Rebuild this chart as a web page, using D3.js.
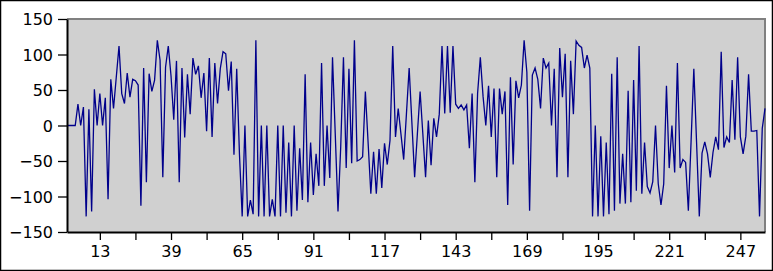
<!DOCTYPE html>
<html>
<head>
<meta charset="utf-8">
<script src="https://cdn.jsdelivr.net/npm/d3@7"></script>
<style>
  body { margin: 0; background: #fff; }
  svg { display: block; }
  .tick text { font-family: "DejaVu Sans", sans-serif; font-size: 16px; fill: #000; }
</style>
</head>
<body>
<div id="chart"></div>
<script>
// sample values, index 1..256
const values = [
  0, 0, 0, 0, 30, 0, 26, -128, 23, -121, 51, 0, 45, 0, 39, -104,
  65, 24, 68, 112, 45, 31, 74, 40, 65, 63, 57, -113, 81, -80, 73, 48,
  64, 120, 92, -73, 82, 112, 70, 8, 91, -80, 81, -17, 72, 16, 95, 72,
  84, 39, 74, -8, 95, -16, 88, 31, 80, 104, 101, 49, 90, -41, 80, -40,
  -128, 0, -128, -105, -125, 120, -128, 0, -128, 0, -128, -104, -128, 0, -128, 0,
  -123, -24, -128, 0, -120, -32, -105, 72, -108, -24, -98, -40, -85, 88, -85, 0,
  -74, 96, -12, -121, -30, 96, -60, 80, -53, 120, -50, -48, -44, 48, -24, -96,
  -37, -96, -33, -88, -25, -55, -21, 112, -16, 24, -12, -48, 16, 81, 4, -73,
  -12, 48, -12, -73, 7, -56, 10, -16, 16, 112, 17, 112, 18, 112, 30, 24,
  29, 22, 29, -32, 45, -80, 45, 96, 41, 0, 56, -16, 52, -73, 52, 16,
  48, -112, 68, -55, 63, 39, 57, 120, 75, -120, 71, 81, 65, 24, 95, 81,
  88, 0, 80, -73, 109, 40, 101, -73, 91, 16, 119, 113, 110, 81, 99, 81,
  -128, 0, -128, -15, -128, -24, -125, 73, -120, 96, -110, -40, -110, 49, -108, 64,
  -92, 112, -96, -24, -86, -95, -79, 0, -82, -112, -82, 56, -60, 0, -66, 88,
  -60, -48, -52, -120, -22, 80, -24, -128, -39, -23, -40, -73, -38, -16, -34, 104,
  -31, -16, -24, 64, -20, 96, -16, -40, -15, 72, -8, -8, -7, -128, -4, 24
]
const xTicks = d3.range(13, 248, 13)
const xLabels = [13, 39, 65, 91, 117, 143, 169, 195, 221, 247]
const yTicks = [-150, -100, -50, 0, 50, 100, 150]

const data = values.map((v, i) => ({i: i + 1, v: v}))

let outerWidth = 773
let outerHeight = 271
let margin = {top: 19, bottom: 39, left: 67, right: 8}
let width = outerWidth - margin.left - margin.right
let height = outerHeight - margin.top - margin.bottom

const svg = d3.select("#chart")
    .append("svg")
    .attr("width", outerWidth)
    .attr("height", outerHeight)

// frame round the whole picture
svg.append("rect")
    .attr("x", 0.5)
    .attr("y", 0.5)
    .attr("width", outerWidth - 1)
    .attr("height", outerHeight - 1)
    .attr("fill", "#fff")
    .attr("stroke", "#000")
    .attr("stroke-width", 1.5)

const g = svg.append("g")
    .attr("transform", `translate(${margin.left}, ${margin.top})`)

let x = d3.scaleLinear()
    .domain([1, values.length])
    .range([0, width])

let y = d3.scaleLinear()
    .domain([-150, 150])
    .range([height, 0])

g.append("rect")
    .attr("width", width)
    .attr("height", height)
    .attr("fill", "#d0d0d0")

// top and right border
g.append("path")
    .attr("d", `M0,0H${width}V${height}`)
    .attr("fill", "none")
    .attr("stroke", "#808080")
    .attr("stroke-width", 2)

const line = d3.line()
    .x(d => x(d.i))
    .y(d => y(d.v))

g.append("path")
    .datum(data)
    .attr("d", line)
    .attr("fill", "none")
    .attr("stroke", "#00008b")
    .attr("stroke-width", 1.3)
    .attr("stroke-linejoin", "miter")

const xAxis = g.append("g")
    .attr("transform", `translate(0, ${height})`)
    .call(d3.axisBottom(x)
        .tickValues(xTicks)
        .tickSize(8)
        .tickSizeOuter(0)
        .tickPadding(6)
        .tickFormat(d => xLabels.includes(d) ? d : ""))

const yAxis = g.append("g")
    .call(d3.axisLeft(y)
        .tickValues(yTicks)
        .tickSize(9)
        .tickSizeOuter(0)
        .tickPadding(5)
        .tickFormat(d3.format("d")))

for (const ax of [xAxis, yAxis]) {
    ax.select(".domain").attr("stroke", "#000").attr("stroke-width", 2)
    ax.selectAll(".tick line").attr("stroke", "#000").attr("stroke-width", 1.3)
}
yAxis.selectAll(".tick text").attr("dy", "0.36em")
</script>
</body>
</html>
